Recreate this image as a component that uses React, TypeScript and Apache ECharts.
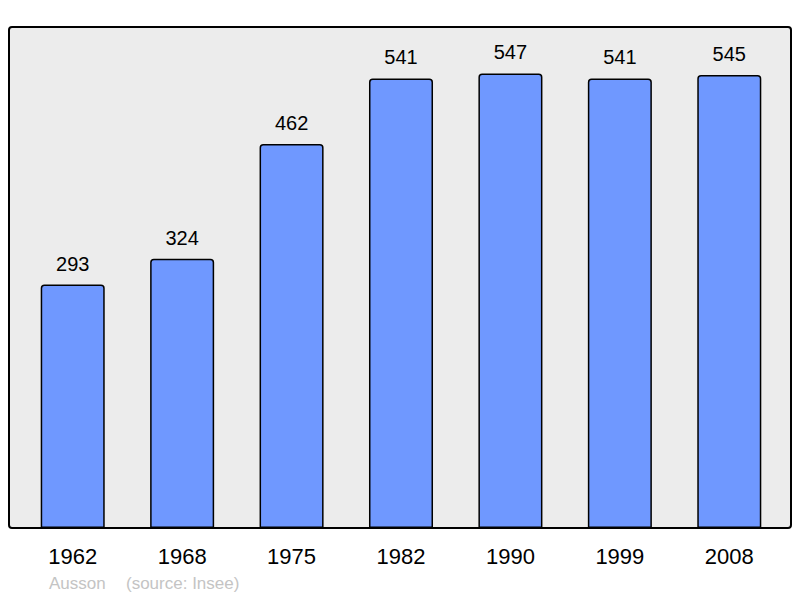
import { useRef, useEffect } from 'react'
import * as echarts from 'echarts'

const years = ['1962', '1968', '1975', '1982', '1990', '1999', '2008']
const population = [293, 324, 462, 541, 547, 541, 545]
const commune = 'Ausson'
const source = '(source: Insee)'

export default function App() {
  const chartRef = useRef<HTMLDivElement>(null)

  useEffect(() => {
    if (!chartRef.current) return
    const instance = echarts.init(chartRef.current, undefined, { renderer: 'svg' })

    instance.setOption({
      animation: false,
      textStyle: { fontFamily: 'Liberation Sans, Arial, sans-serif' },
      grid: { left: 18, right: 16, top: 29.4, bottom: 70 },
      graphic: [
        {
          type: 'rect',
          z: -10,
          shape: { x: 9, y: 27, width: 782, height: 501, r: 3 },
          style: { fill: '#ececec', stroke: '#000', lineWidth: 2 },
        },
        {
          type: 'text',
          left: 49,
          top: 575,
          style: { text: commune, fill: '#c4c4c4', fontSize: 17, fontFamily: 'Liberation Sans, Arial, sans-serif' },
        },
        {
          type: 'text',
          left: 126,
          top: 575,
          style: { text: source, fill: '#c4c4c4', fontSize: 17, fontFamily: 'Liberation Sans, Arial, sans-serif' },
        },
      ],
      xAxis: {
        type: 'category',
        data: years,
        axisLine: { show: false },
        axisTick: { show: false },
        axisLabel: { color: '#000', fontSize: 22, margin: 17 },
      },
      yAxis: {
        type: 'value',
        min: 0,
        max: 600,
        show: false,
        splitLine: { show: false },
      },
      series: [
        {
          type: 'bar',
          data: population,
          barWidth: '58.5%',
          itemStyle: {
            color: '#6f98ff',
            borderColor: '#000',
            borderWidth: 1.5,
            borderRadius: [3, 3, 0, 0],
          },
          label: {
            show: true,
            position: 'top',
            distance: 11,
            color: '#000',
            fontSize: 20,
          },
        },
      ],
    })

    return () => {
      instance.dispose()
    }
  }, [])

  return (
    <div
      ref={chartRef}
      style={{ position: 'absolute', left: 0, top: 0, width: 800, height: 598, background: '#fff' }}
    />
  )
}
